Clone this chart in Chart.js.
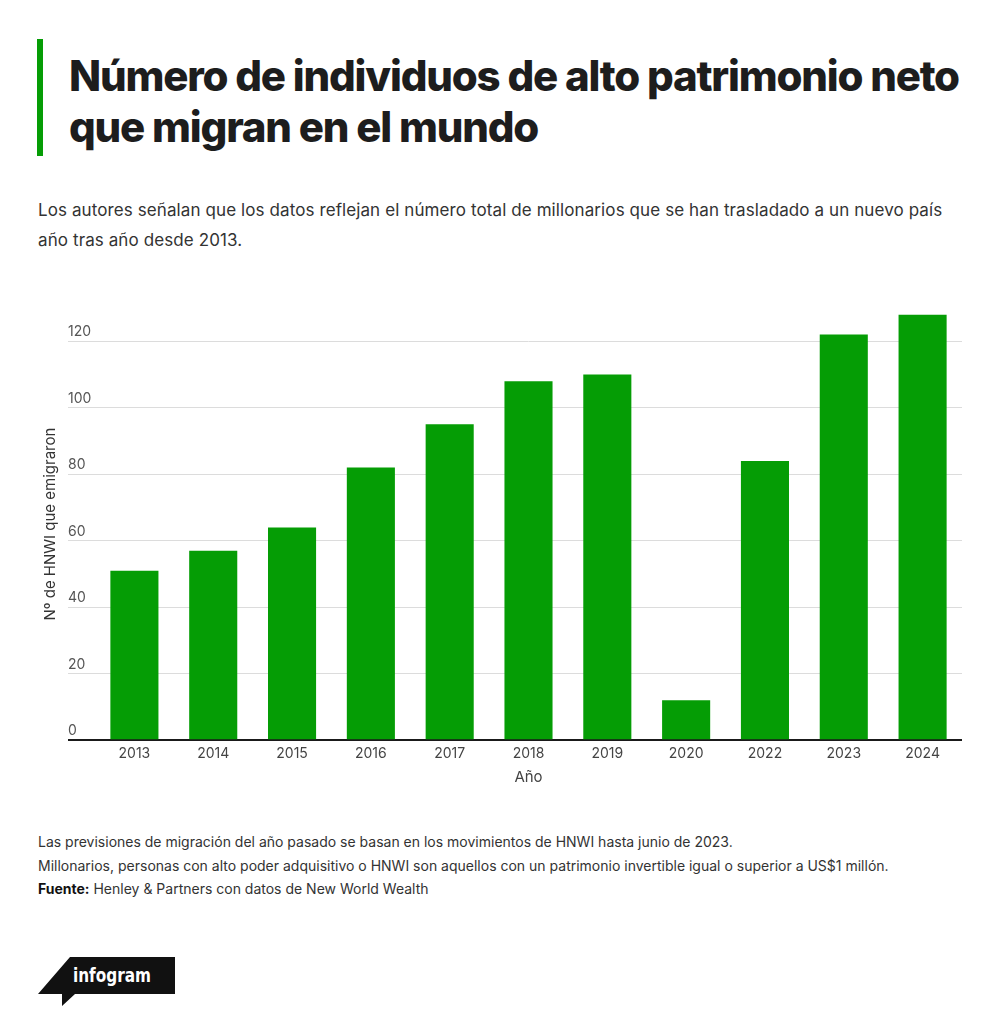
<!DOCTYPE html>
<html lang="es">
<head>
<meta charset="utf-8">
<title>Número de individuos de alto patrimonio neto que migran en el mundo</title>
<script src="https://cdn.jsdelivr.net/npm/chart.js@4/dist/chart.umd.min.js"></script>
<style>
  html, body { margin: 0; padding: 0; background: #fff; }
  body { width: 1000px; height: 1026px; position: relative; font-family: Inter, "Open Sans", sans-serif; color: #222; overflow: hidden; }
  .acento { position: absolute; left: 37px; top: 39px; width: 6px; height: 117px; background: #059d05; }
  h1 { position: absolute; left: 69px; top: 50px; margin: 0; font-size: 42px; line-height: 51px; font-weight: 800; letter-spacing: -1.2px; color: #1d1d1d; white-space: nowrap; }
  .sub { position: absolute; left: 38px; top: 195px; margin: 0; font-size: 17px; line-height: 30px; color: #333; letter-spacing: 0.1px; white-space: nowrap; }
  .notas { position: absolute; left: 38px; top: 830px; margin: 0; font-size: 14px; line-height: 23.5px; color: #333; letter-spacing: 0; white-space: nowrap; }
  .notas b { color: #111; }
  #caja { position: absolute; left: 0; top: 280px; width: 1000px; height: 520px; }
  .logo { position: absolute; left: 38px; top: 957px; }
</style>
</head>
<body>
<div class="acento"></div>
<h1>Número de individuos de alto patrimonio neto<br>que migran en el mundo</h1>
<p class="sub">Los autores señalan que los datos reflejan el número total de millonarios que se han trasladado a un nuevo país<br>año tras año desde 2013.</p>
<div id="caja"><canvas id="grafico"></canvas></div>
<p class="notas">Las previsiones de migración del año pasado se basan en los movimientos de HNWI hasta junio de 2023.<br>Millonarios, personas con alto poder adquisitivo o HNWI son aquellos con un patrimonio invertible igual o superior a US$1 millón.<br><b>Fuente:</b> Henley &amp; Partners con datos de New World Wealth</p>
<svg class="logo" width="140" height="52" viewBox="0 0 140 52">
  <path d="M32 0 H137 V37 H37 L24 49 V37 H0 Z" fill="#111"/>
  <text x="35" y="25" fill="#fff" font-family="'DejaVu Sans Condensed', 'Liberation Sans Narrow', sans-serif" font-weight="700" font-size="19" textLength="78" lengthAdjust="spacingAndGlyphs">infogram</text>
</svg>

<script>
// años (2021 no aparece en el original)
const anios = ["2013", "2014", "2015", "2016", "2017", "2018", "2019", "2020", "2022", "2023", "2024"];
// miles de millonarios que emigraron
const emigrantes = [51, 57, 64, 82, 95, 108, 110, 12, 84, 122, 128];
const ticksY = [0, 20, 40, 60, 80, 100, 120];

const verde = "#059d05";

const ctx = document.getElementById("grafico").getContext("2d");
const grafico = new Chart(ctx, {
  type: "bar",
  data: {
    labels: anios,
    datasets: [{
      label: "Nº de HNWI que emigraron",
      data: emigrantes,
      backgroundColor: verde,
      borderWidth: 0,
      categoryPercentage: 1,
      barPercentage: 0.61
    }]
  },
  options: {
    responsive: true,
    maintainAspectRatio: false,
    animation: false,
    layout: { padding: { left: 37, right: 38, top: 28, bottom: 10 } },
    plugins: {
      legend: { display: false },
      tooltip: { enabled: false }
    },
    scales: {
      x: {
        grid: { display: false, drawTicks: false },
        border: { display: false },
        ticks: { color: "#444", padding: 5, font: { family: "Inter", size: 14 } },
        title: { display: true, text: "Año", color: "#444", padding: { top: 1, bottom: 4 }, font: { family: "Inter", size: 15 } }
      },
      y: {
        min: 0,
        max: 130,
        afterBuildTicks: (escala) => {
          escala.ticks = ticksY.map(v => ({ value: v }));
        },
        afterFit: (escala) => { escala.width = 58; },
        border: { display: false },
        grid: {
          color: (c) => c.tick && c.tick.value === 0 ? "#1a1a1a" : "#dcdcdc",
          lineWidth: (c) => c.tick && c.tick.value === 0 ? 2 : 1,
          tickLength: 27
        },
        ticks: {
          mirror: true,
          padding: -27,
          labelOffset: -9,
          color: "#555",
          font: { family: "Inter", size: 14 }
        },
        title: { display: true, text: "Nº de HNWI que emigraron", color: "#333", font: { family: "Inter", size: 15 } }
      }
    }
  }
});
</script>
</body>
</html>
